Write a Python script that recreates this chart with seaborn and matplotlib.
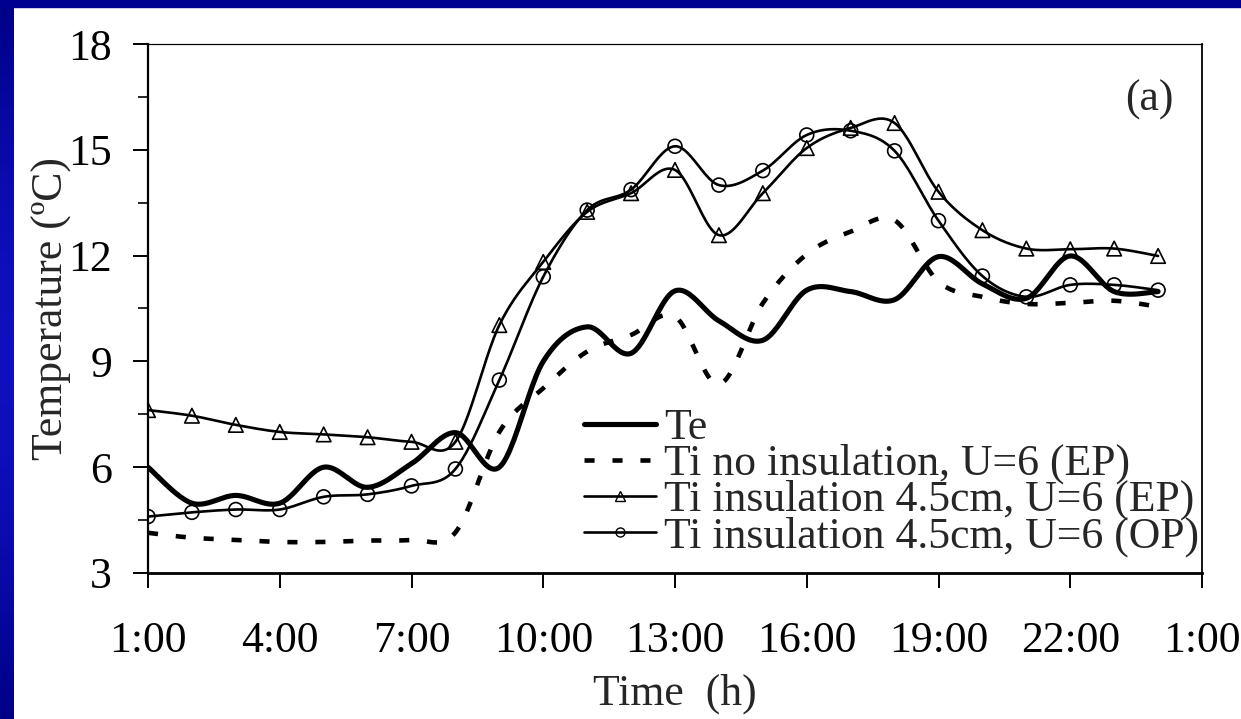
import numpy as np
import pandas as pd
import matplotlib
matplotlib.use("Agg")
import matplotlib.pyplot as plt
from matplotlib.lines import Line2D
from matplotlib.patches import Rectangle
import seaborn as sns

# Hourly temperatures (ºC), 1:00 .. 24:00
hours = list(range(1, 25))
te = [6.0, 4.98, 5.2, 4.98, 6.0, 5.43, 6.1, 6.98, 6.0, 9.0, 9.98, 9.23,
      11.0, 10.15, 9.6, 11.02, 10.98, 10.75, 11.97, 11.2, 10.79, 11.99, 10.98, 10.98]
ti_no_ins = [4.14, 4.0, 3.94, 3.88, 3.88, 3.92, 3.94, 4.15, 7.0, 8.24, 9.28, 9.75,
             10.27, 8.35, 10.65, 12.04, 12.68, 13.0, 11.26, 10.83, 10.63, 10.66, 10.72, 10.55]
ti_ins_ep = [7.62, 7.46, 7.2, 7.0, 6.93, 6.85, 6.72, 6.72, 10.03, 11.82, 13.24, 13.77,
             14.43, 12.58, 13.77, 15.05, 15.62, 15.76, 13.81, 12.72, 12.2, 12.18, 12.2, 11.99]
ti_ins_op = [4.6, 4.72, 4.8, 4.8, 5.16, 5.23, 5.47, 5.95, 8.47, 11.4, 13.29, 13.87,
             15.1, 14.0, 14.41, 15.42, 15.54, 14.97, 12.99, 11.42, 10.83, 11.17, 11.17, 11.02]

labels = ["Te", "Ti no insulation, U=6 (EP)",
          "Ti insulation 4.5cm, U=6 (EP)", "Ti insulation 4.5cm, U=6 (OP)"]
xtick_pos = [1, 4, 7, 10, 13, 16, 19, 22, 25]
xtick_labels = ["1:00", "4:00", "7:00", "10:00", "13:00", "16:00", "19:00", "22:00", "1:00"]
ytick_pos = [3, 6, 9, 12, 15, 18]

FS = 31.5


def smooth(x, y, n=24):
    """Bezier smoothing through every point (Catmull-Rom style tangents)."""
    pts = np.column_stack([x, y]).astype(float)
    P = np.vstack([pts[0], pts, pts[-1]])
    t = np.linspace(0, 1, n, endpoint=False)[:, None]
    segs = []
    for i in range(1, len(P) - 2):
        p0, p1, p2, p3 = P[i - 1], P[i], P[i + 1], P[i + 2]
        c1 = p1 + (p2 - p0) / 6.0
        c2 = p2 - (p3 - p1) / 6.0
        segs.append((1 - t) ** 3 * p1 + 3 * (1 - t) ** 2 * t * c1
                    + 3 * (1 - t) * t ** 2 * c2 + t ** 3 * p2)
    segs.append(pts[-1:])
    s = np.vstack(segs)
    return pd.DataFrame({"x": s[:, 0], "y": s[:, 1]})


sns.set_theme(style="ticks")
plt.rcParams["font.family"] = ["Liberation Serif", "DejaVu Serif"]

W, H = 1241, 719
fig = plt.figure(figsize=(W / 100, H / 100), dpi=100)
fig.patch.set_facecolor("white")

# Blue slide frame: top band and left gradient strip
strip = fig.add_axes([0, 0, 14 / W, 1])
grad = np.linspace(0, 1, 256)
bump = np.sin(np.pi * grad)
rgb = np.stack([0.06 * bump, 0.06 * bump, 0.53 + 0.22 * bump], axis=1)
strip.imshow(rgb[:, None, :], aspect="auto", extent=[0, 1, 0, 1])
strip.set_axis_off()
fig.add_artist(Rectangle((0, 1 - 7 / H), 1, 7 / H, transform=fig.transFigure,
                         color="#000090", zorder=5))

ax = fig.add_axes([148 / W, 1 - 573 / H, (1202 - 148) / W, (573 - 44) / H])
ax.set_facecolor("white")

# Smoothed curves
sns.lineplot(data=smooth(hours, te), x="x", y="y", sort=False, estimator=None,
             color="black", lw=3.7, ax=ax)
sns.lineplot(data=smooth(hours, ti_no_ins), x="x", y="y", sort=False, estimator=None,
             color="black", lw=3.3, ax=ax)
ax.lines[-1].set_linestyle((0, (2.2, 3.9)))
ax.lines[-1].set_dash_capstyle("butt")
sns.lineplot(data=smooth(hours, ti_ins_ep), x="x", y="y", sort=False, estimator=None,
             color="black", lw=1.9, ax=ax)
sns.lineplot(data=smooth(hours, ti_ins_op), x="x", y="y", sort=False, estimator=None,
             color="black", lw=1.9, ax=ax)

# Hourly markers
sns.scatterplot(x=hours, y=ti_ins_ep, marker="^", s=110, facecolor="none",
                edgecolor="black", linewidth=1.2, ax=ax, zorder=4)
sns.scatterplot(x=hours, y=ti_ins_op, marker="o", s=100, facecolor="none",
                edgecolor="black", linewidth=1.2, ax=ax, zorder=4)

ax.set_xlim(1, 25)
ax.set_ylim(3, 18)
ax.set_xticks(xtick_pos)
ax.set_xticklabels(xtick_labels)
ax.set_yticks(ytick_pos)
ax.set_yticks(np.arange(4.5, 18, 3), minor=True)
ax.tick_params(axis="both", which="major", labelsize=FS, colors="black",
               length=10.5, width=1.4, direction="out")
ax.tick_params(axis="x", pad=24)
ax.tick_params(axis="y", pad=15.5)
ax.tick_params(axis="y", which="minor", length=7, width=1.4, direction="out")
ax.tick_params(axis="x", which="minor", bottom=False)

for side, lw in {"left": 1.6, "bottom": 2.0, "top": 0.9, "right": 1.3}.items():
    ax.spines[side].set_visible(True)
    ax.spines[side].set_color("black")
    ax.spines[side].set_linewidth(lw)

ax.set_xlabel("Time  (h)", fontsize=FS, labelpad=9)
ax.set_ylabel("Temperature (ºC)", fontsize=FS, labelpad=-2.5)

ax.text(0.95, 0.894, "(a)", transform=ax.transAxes, fontsize=FS,
        ha="center", va="center")

handles = [
    Line2D([], [], color="black", lw=3.7),
    Line2D([], [], color="black", lw=3.3, linestyle=(0, (2.2, 3.9)), dash_capstyle="butt"),
    Line2D([], [], color="black", lw=1.9, marker="^", markersize=7.5,
           markerfacecolor="none", markeredgewidth=1.0),
    Line2D([], [], color="black", lw=1.9, marker="o", markersize=6.5,
           markerfacecolor="none", markeredgewidth=1.0),
]
ax.legend(handles, labels, loc="lower right", bbox_to_anchor=(0.997, 0.031),
          frameon=False, fontsize=FS, handlelength=1.65, handletextpad=0.18,
          labelspacing=-0.1, borderpad=0, borderaxespad=0)

fig.savefig("out.png", dpi=100)
